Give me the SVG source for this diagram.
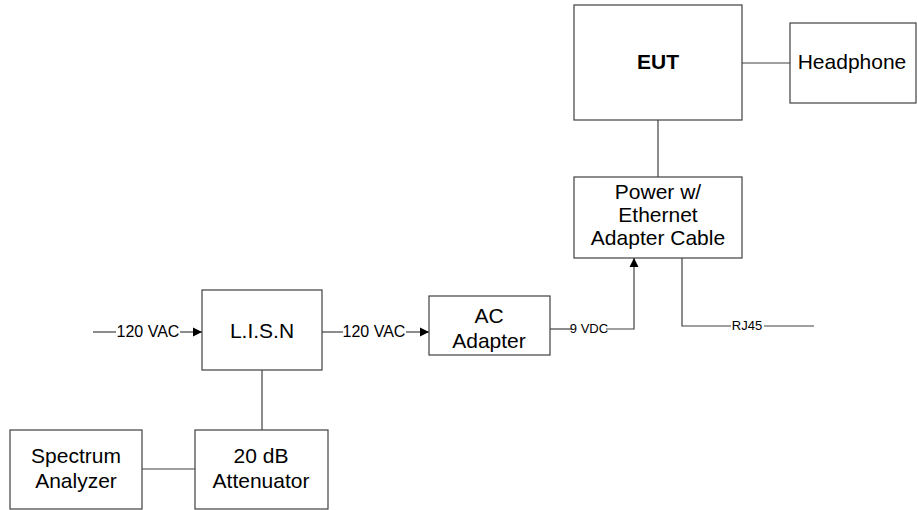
<svg xmlns="http://www.w3.org/2000/svg" width="917" height="510" viewBox="0 0 917 510">
<style>
.box{fill:#fff;stroke:#404040;stroke-width:1.2}
.ln{fill:none;stroke:#404040;stroke-width:1.2}
.t{font-family:"Liberation Sans",Arial,sans-serif;font-size:21px;fill:#000;text-anchor:middle}
.s{font-family:"Liberation Sans",Arial,sans-serif;font-size:16px;fill:#000;text-anchor:middle}
.xs{font-family:"Liberation Sans",Arial,sans-serif;font-size:13px;fill:#000;text-anchor:middle}
</style>
<defs>
<marker id="ah" viewBox="0 0 10 10" refX="10" refY="5" markerWidth="9" markerHeight="11" orient="auto" markerUnits="userSpaceOnUse">
<path d="M0,0 L10,5 L0,10 Z" fill="#000"/>
</marker>
</defs>
<rect width="917" height="510" fill="#fff"/>
<g id="connectors">
<line class="ln" x1="93" y1="332" x2="116" y2="332"/>
<line class="ln" x1="180" y1="332" x2="202" y2="332" marker-end="url(#ah)"/>
<line class="ln" x1="322" y1="332" x2="343" y2="332"/>
<line class="ln" x1="406" y1="332" x2="429" y2="332" marker-end="url(#ah)"/>
<polyline class="ln" points="550,329 572,329"/>
<polyline class="ln" points="606,329 634,329 634,258" marker-end="url(#ah)"/>
<polyline class="ln" points="682,258 682,326 731,326"/>
<line class="ln" x1="764" y1="326" x2="814" y2="326"/>
<line class="ln" x1="658" y1="120" x2="658" y2="177"/>
<line class="ln" x1="742" y1="63" x2="790" y2="63"/>
<line class="ln" x1="262" y1="370" x2="262" y2="430"/>
<line class="ln" x1="142" y1="469" x2="195" y2="469"/>
<text class="s" x="148" y="337">120 VAC</text>
<text class="s" x="374" y="337">120 VAC</text>
<text class="xs" x="589" y="333">9 VDC</text>
<text class="xs" x="747" y="330">RJ45</text>
</g>
<g id="lisn">
<rect class="box" x="202" y="290" width="120" height="80"/>
<text class="t" x="262" y="338">L.I.S.N</text>
</g>
<g id="ac-adapter">
<rect class="box" x="429" y="296" width="121" height="59"/>
<text class="t" x="489" y="323">AC</text>
<text class="t" x="489" y="348">Adapter</text>
</g>
<g id="power-cable">
<rect class="box" x="574" y="177" width="168" height="81"/>
<text class="t" x="658" y="199">Power w/</text>
<text class="t" x="658" y="222">Ethernet</text>
<text class="t" x="658" y="245">Adapter Cable</text>
</g>
<g id="eut">
<rect class="box" x="574" y="5" width="168" height="115"/>
<text class="t" x="658" y="69" font-weight="bold">EUT</text>
</g>
<g id="headphone">
<rect class="box" x="790" y="23" width="126" height="80"/>
<text class="t" x="852" y="69">Headphone</text>
</g>
<g id="spectrum-analyzer">
<rect class="box" x="10" y="430" width="132" height="79"/>
<text class="t" x="76" y="463">Spectrum</text>
<text class="t" x="76" y="488">Analyzer</text>
</g>
<g id="attenuator">
<rect class="box" x="195" y="430" width="133" height="79"/>
<text class="t" x="261" y="463">20 dB</text>
<text class="t" x="261" y="488">Attenuator</text>
</g>
</svg>
